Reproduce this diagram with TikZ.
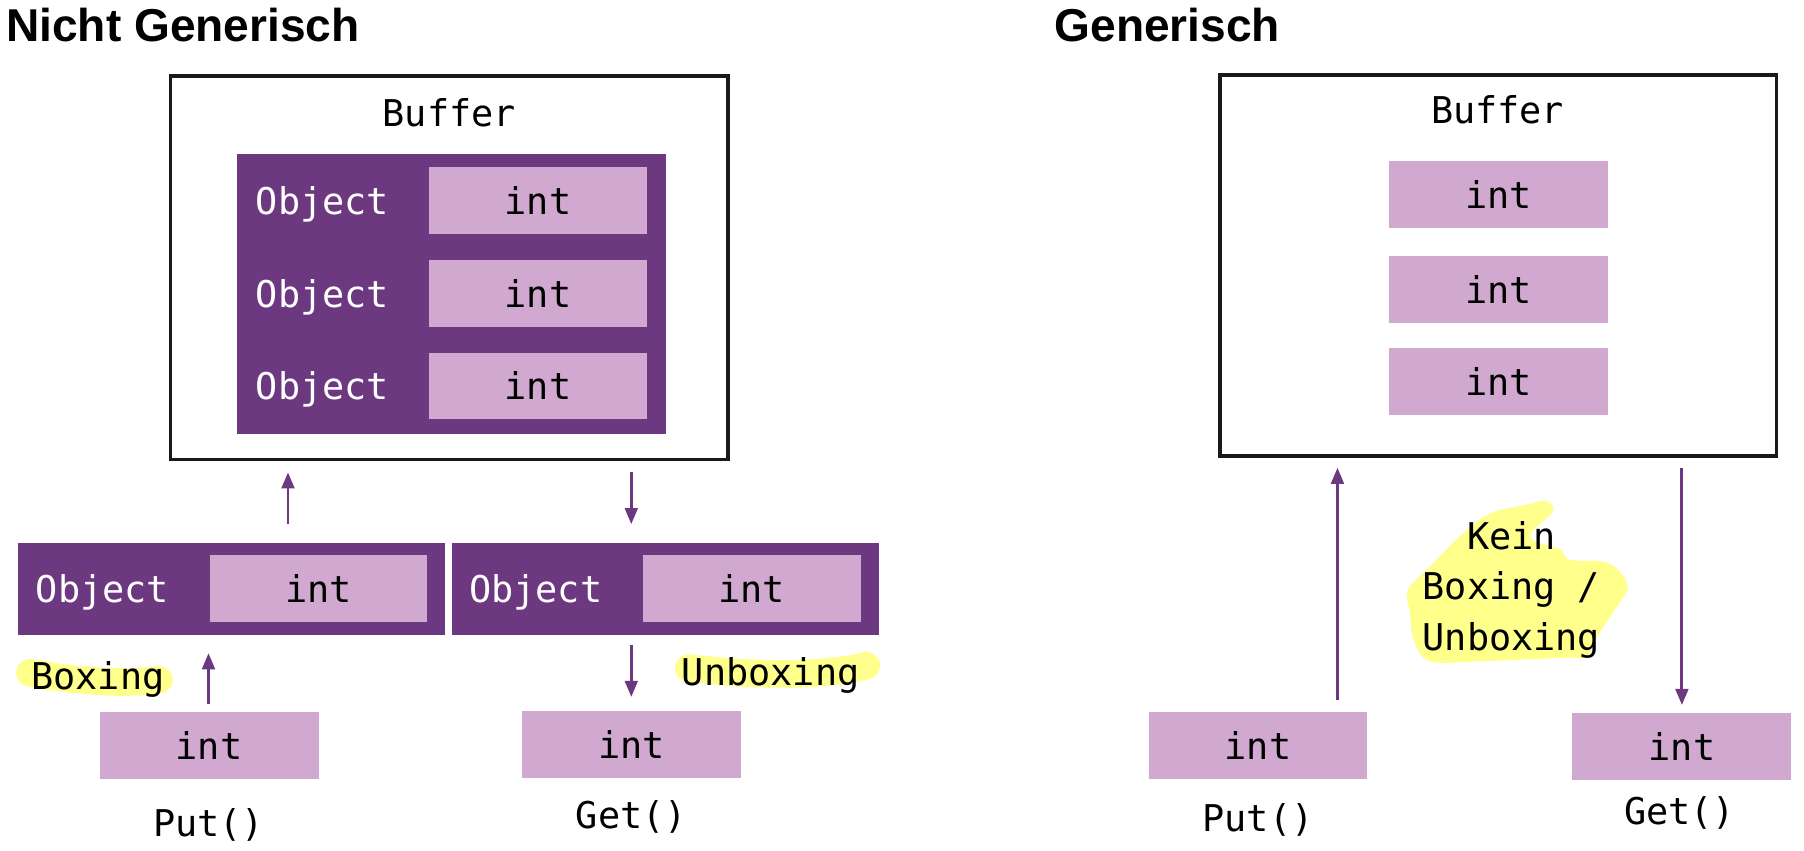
\documentclass[tikz,border=0pt]{standalone}
\usepackage{fontspec}
\setmainfont{Liberation Sans}
\setmonofont{DejaVu Sans Mono}
\usetikzlibrary{arrows.meta}
\definecolor{boxpurple}{RGB}{108,56,128}
\definecolor{intlilac}{RGB}{208,168,208}
\definecolor{marker}{RGB}{255,255,140}
\newcommand{\codefont}{\ttfamily\fontsize{16}{22}\selectfont}

\tikzset{
  buffer/.style={draw=black!90, line width=1.5pt, inner sep=0pt},
  objbox/.style={fill=boxpurple, inner sep=0pt},
  intbox/.style={fill=intlilac, minimum width=95pt, minimum height=29pt, inner sep=0pt, font=\codefont, text depth=0pt},
  objtext/.style={text=white, font=\codefont, text depth=0pt},
  lbl/.style={font=\codefont, text depth=0pt},
  heading/.style={font=\bfseries\fontsize{20}{24}\selectfont, anchor=west, inner sep=0pt},
  flow/.style={->, draw=boxpurple, line width=1.25pt},
  highlight/.style={draw=marker, line width=12pt, line cap=round}
}

\begin{document}
\begin{tikzpicture}[x=0.5pt,y=-0.5pt,>={Triangle[length=7pt,width=5.5pt]}]
  \useasboundingbox (0,0) rectangle (1566,738);

  % nicht generisch
  \node[heading] (t1) at (5,22) {Nicht Generisch};
  \node[buffer, minimum width=242pt, minimum height=166.5pt] (buf1) at (390,232.5) {};
  \node[lbl] (buf1l) at (390,98) {Buffer};
  \node[objbox, minimum width=186pt, minimum height=121.5pt] (obj) at (392,255.5) {};
  \foreach \y [count=\i] in {174,254.5,335}{
    \node[objtext] (o\i) at (280,\y) {Object};
    \node[intbox] (i\i) at (467,\y) {int};
  }

  \node[objbox, minimum width=185pt, minimum height=40pt] (objA) at (201,511) {};
  \node[objtext] (objAl) at (89,511) {Object};
  \node[intbox, minimum width=94.5pt] (intA) at (276.5,510.5) {int};
  \node[objbox, minimum width=185.5pt, minimum height=40pt] (objB) at (577.5,511) {};
  \node[objtext] (objBl) at (465,511) {Object};
  \node[intbox, minimum width=94.5pt] (intB) at (652.5,510.5) {int};

  \draw[highlight] (26,584) .. controls (70,592) and (110,594) .. (138,590);
  \draw[highlight] (598,580) .. controls (650,586) and (710,588) .. (752,578);
  \node[lbl] (boxing) at (85,586) {Boxing};
  \node[lbl] (unboxing) at (669,583) {Unboxing};

  \node[intbox] (putL) at (181.5,647) {int};
  \node[lbl] (putLl) at (181,714) {Put()};
  \node[intbox] (getL) at (548.5,646) {int};
  \node[lbl] (getLl) at (548,707) {Get()};

  \coordinate (objAin) at (250,455);  \coordinate (buf1in) at (250,410);
  \coordinate (buf1out) at (548,410); \coordinate (objBin) at (548,455);
  \coordinate (putLout) at (181,611); \coordinate (objAout) at (181,567);
  \coordinate (objBout) at (548,560); \coordinate (getLin) at (548,605);
  \path (objAin) edge[flow] (buf1in)
        (buf1out) edge[flow] (objBin)
        (putLout) edge[flow] (objAout)
        (objBout) edge[flow] (getLin);

  % generisch
  \node[heading] (t2) at (915,22) {Generisch};
  \node[buffer, minimum width=241.5pt, minimum height=165.5pt] (buf2) at (1300.5,230.5) {};
  \node[lbl] (buf2l) at (1300,95) {Buffer};
  \foreach \y [count=\i] in {169,251,331}
    \node[intbox] (j\i) at (1301,\y) {int};

  \node[intbox] (putR) at (1092,647) {int};
  \node[lbl] (putRl) at (1092,710) {Put()};
  \node[intbox] (getR) at (1460,648) {int};
  \node[lbl] (getRl) at (1458,704) {Get()};

  \fill[marker] plot[smooth cycle, tension=0.55] coordinates {(1342,435) (1348,444) (1328,466)
    (1354,477) (1363,486) (1397,489) (1413,509) (1400,532) (1386,553) (1377,570)
    (1357,571) (1285,574) (1241,574) (1227,555) (1224,532) (1222,512) (1241,492)
    (1270,463) (1293,446) (1325,438)};
  \node[lbl, align=center, text depth=] (kein) at (1312,512) {Kein\\Boxing /\\Unboxing};

  \coordinate (putRout) at (1161,608); \coordinate (buf2in) at (1161,406);
  \coordinate (buf2out) at (1460,406); \coordinate (getRin) at (1460,612);
  \path (putRout) edge[flow] (buf2in)
        (buf2out) edge[flow] (getRin);
\end{tikzpicture}
\end{document}
